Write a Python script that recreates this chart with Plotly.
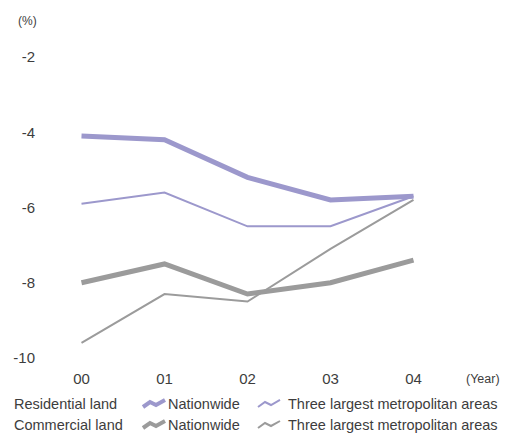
import plotly.graph_objects as go

years = ["00", "01", "02", "03", "04"]
res_nation = [-4.1, -4.2, -5.2, -5.8, -5.7]
res_metro = [-5.9, -5.6, -6.5, -6.5, -5.7]
com_nation = [-8.0, -7.5, -8.3, -8.0, -7.4]
com_metro = [-9.6, -8.3, -8.5, -7.1, -5.8]
yticks = [-2, -4, -6, -8, -10]

PURPLE = "#9c98cc"
GRAY = "#9b9b9b"
TXT = "#3d3d3d"
FONT = "Liberation Sans, Arial, sans-serif"

W, H = 509, 435
L, R, T, B = 40, 54, 57, 77
PW, PH = W - L - R, H - T - B

fig = go.Figure()
xs = list(range(len(years)))
for ys, col, w in [(com_metro, GRAY, 2), (com_nation, GRAY, 5),
                   (res_metro, PURPLE, 2), (res_nation, PURPLE, 5)]:
    fig.add_trace(go.Scatter(x=xs, y=ys, mode="lines",
                             line=dict(color=col, width=w),
                             showlegend=False, hoverinfo="skip"))

def px2paper(px, py):
    return (px - L) / PW, (H - B - py) / PH

shapes = []
def zig(x0, yc, col, w):
    pts = [(0, 3), (7, -2), (13, 1), (22, -4)]
    p = []
    for i, (dx, dy) in enumerate(pts):
        X, Y = px2paper(x0 + dx, yc + dy)
        p.append(("M" if i == 0 else "L") + f"{X:.5f},{Y:.5f}")
    shapes.append(dict(type="path", path=" ".join(p), xref="paper", yref="paper",
                       line=dict(color=col, width=w)))

annos = []
def txt(px, py, s, size=14.5, anchor="left"):
    X, Y = px2paper(px, py)
    annos.append(dict(x=X, y=Y, xref="paper", yref="paper", text=s, showarrow=False,
                      xanchor=anchor, yanchor="middle",
                      font=dict(size=size, color=TXT, family=FONT)))

rows = [(404, "Residential land", PURPLE), (425, "Commercial land", GRAY)]
for yc, label, col in rows:
    txt(12, yc, label)
    zig(143, yc, col, 4)
    txt(166, yc, "Nationwide")
    zig(258, yc, col, 2)
    txt(286, yc, "Three largest metropolitan areas")

txt(27, 21, "(%)", size=12, anchor="center")
txt(483, 379, "(Year)", size=12.5, anchor="center")

fig.update_layout(
    width=W, height=H,
    margin=dict(l=L, r=R, t=T, b=B),
    paper_bgcolor="white", plot_bgcolor="white",
    shapes=shapes, annotations=annos,
    font=dict(family=FONT, color=TXT, size=15),
    xaxis=dict(range=[-0.5, 4.5], tickmode="array", tickvals=xs, ticktext=years,
               showgrid=False, zeroline=False, showline=False, ticks="",
               ticklabelstandoff=10, tickfont=dict(size=15, color=TXT)),
    yaxis=dict(range=[-10, -2], tickmode="array", tickvals=yticks,
               ticktext=[str(v) for v in yticks],
               showgrid=False, zeroline=False, showline=False, ticks="",
               ticklabelstandoff=4, tickfont=dict(size=15, color=TXT)),
)
fig.write_html("out.html")
